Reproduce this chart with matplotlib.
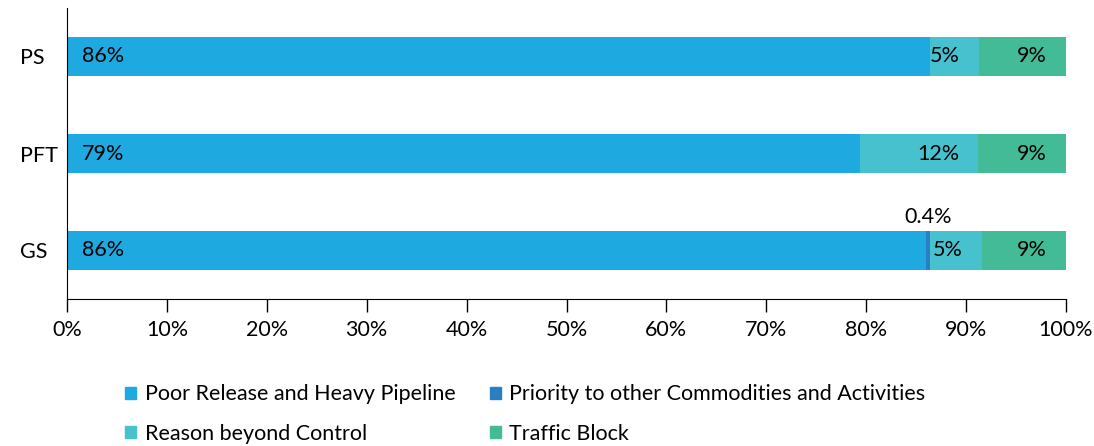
import numpy as np
import matplotlib.pyplot as plt
from matplotlib.patches import Patch

plt.rcParams['font.family'] = ['Lato', 'DejaVu Sans']

# data (percent), bottom to top
categories = ["GS", "PFT", "PS"]
poor_release = [86.0, 79.4, 86.4]
priority = [0.4, 0.0, 0.0]
beyond_control = [5.2, 11.8, 4.9]
traffic_block = [8.4, 8.8, 8.7]

poor_labels = ["86%", "79%", "86%"]
beyond_labels = ["5%", "12%", "5%"]
traffic_labels = ["9%", "9%", "9%"]
priority_label = "0.4%"

series_names = ["Poor Release and Heavy Pipeline",
                "Priority to other Commodities and Activities",
                "Reason beyond Control", "Traffic Block"]
colors = ["#1fa9e1", "#2a7fc4", "#47c1ce", "#44bb97"]

fig = plt.figure(figsize=(10.94, 4.46), dpi=100)
ax = fig.add_axes([67 / 1094, 1 - 299 / 446, 999 / 1094, 291 / 446])

y = np.arange(len(categories))
h = 0.4
left = np.zeros(len(categories))
series = [poor_release, priority, beyond_control, traffic_block]
for vals, c in zip(series, colors):
    vals = np.array(vals)
    ax.barh(y, vals, left=left, height=h, color=c, edgecolor="none")
    left += vals

fs = 15.5
# labels
for i in range(len(categories)):
    ax.text(1.5, y[i], poor_labels[i], ha="left", va="center", fontsize=fs)
    end_b = poor_release[i] + priority[i] + beyond_control[i]
    ax.text(end_b - 1.9, y[i], beyond_labels[i], ha="right", va="center", fontsize=fs)
    ax.text(100 - 1.9, y[i], traffic_labels[i], ha="right", va="center", fontsize=fs)
ax.text(poor_release[0] + priority[0] / 2, y[0] + 0.35, priority_label,
        ha="center", va="center", fontsize=fs)

ax.set_xlim(0, 100)
ax.set_ylim(-0.5, 2.5)
ax.set_xticks(np.arange(0, 101, 10))
ax.set_xticklabels([f"{v}%" for v in range(0, 101, 10)])
ax.set_yticks(y)
ax.set_yticklabels(categories, ha="left")
ax.tick_params(axis="x", length=9, width=1, labelsize=fs, pad=6)
ax.tick_params(axis="y", length=0, labelsize=fs, pad=34)
for s in ["top", "right"]:
    ax.spines[s].set_visible(False)

handles = [Patch(color=c) for c in colors]
order = [0, 2, 1, 3]
fig.legend([handles[k] for k in order], [series_names[k] for k in order],
           loc="upper left", bbox_to_anchor=(106 / 1094, 1 - 365 / 446),
           ncol=2, frameon=False, fontsize=fs, handlelength=0.5, handleheight=0.5,
           handletextpad=0.4, columnspacing=1.6, labelspacing=0.9)

fig.savefig("out.png", dpi=100)
